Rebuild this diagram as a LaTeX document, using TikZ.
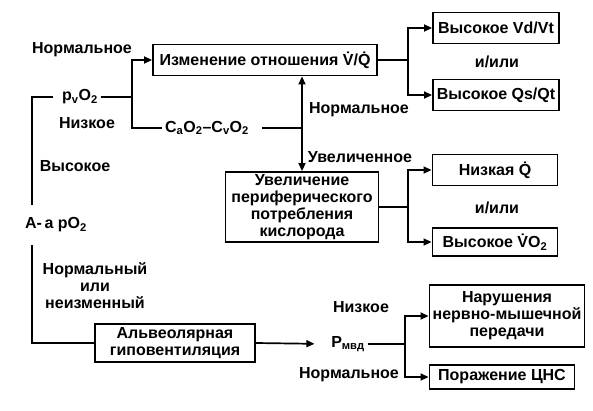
\documentclass[tikz,border=0pt]{standalone}
\usepackage{fontspec}
\setmainfont{Liberation Sans}
\usetikzlibrary{arrows.meta}
\newcommand{\fnt}{\fontsize{16}{17}\selectfont\bfseries}

\begin{document}
\begin{tikzpicture}[x=1pt,y=-1pt,line width=1.7pt,
  box/.style={draw,line width=1.9pt,align=center,inner sep=1.5pt,font=\fnt},
  lbl/.style={align=center,inner sep=2pt,font=\fnt},
  >={Triangle[length=8pt,width=7pt]}]
\useasboundingbox (0,0) rectangle (593,410);
\node[box,minimum width=224,minimum height=31] (vq) at (265,60) {Изменение отношения \.{V}/\.{Q}};
\node[box,minimum width=126,minimum height=31] (vd) at (496,28) {Высокое Vd/Vt};
\node[box,minimum width=126,minimum height=31] (qs) at (496,95) {Высокое Qs/Qt};
\node[box,minimum width=153,minimum height=70] (ipo) at (302,207) {Увеличение\\периферического\\потребления\\кислорода};
\node[box,minimum width=125,minimum height=31] (lowq) at (495,170) {Низкая \.{Q}};
\node[box,minimum width=125,minimum height=28] (vo2) at (495,242) {Высокое \.{V}O\textsubscript{2}};
\node[box,minimum width=160,minimum height=38] (alv) at (175,343) {Альвеолярная\\гиповентиляция};
\node[box,minimum width=155,minimum height=62] (nmp) at (507,316) {Нарушения\\нервно-мышечной\\передачи};
\node[box,minimum width=145,minimum height=24] (cns) at (502,377) {Поражение ЦНС};
\node[lbl] (n1) at (82,50) {Нормальное};
\node[lbl] (pvo) at (80,97) {p\textsubscript{v}O\textsubscript{2}};
\node[lbl] (low1) at (87,123) {Низкое};
\node[lbl] (high1) at (75,166) {Высокое};
\node[lbl] (avd) at (207,128) {C\textsubscript{a}O\textsubscript{2}–C\textsubscript{v}O\textsubscript{2}};
\node[lbl,inner ysep=12pt] (aa) at (56,225) {A-\,a pO\textsubscript{2}};
\node[lbl] (nn) at (95,286) {Нормальный\\или\\неизменный};
\node[lbl] (n2) at (359,110) {Нормальное};
\node[lbl] (incr) at (360,157) {Увеличенное};
\node[lbl] (or1) at (497,62) {и/или};
\node[lbl] (or2) at (497,208) {и/или};
\node[lbl] (pm) at (348,344) {P\textsubscript{мвд}};
\node[lbl] (low2) at (361,307) {Низкое};
\node[lbl] (n3) at (349,375) {Нормальное};
\coordinate (lt) at (32,97); \coordinate (j1) at (132,97); \coordinate (j2) at (408,60);
\coordinate (j3) at (408,207); \coordinate (j4) at (405,344);
\draw[shorten <=6pt] (pvo.west) -- (lt) -- (lt |- aa.north); \draw (aa.south -| lt) |- (alv.west);
\draw (pvo.east) -- (j1); \draw[->] (j1) |- (vq.west); \draw (j1) |- (avd.west);
\draw[shorten <=10pt] (avd.east) -- (avd.east -| ipo.north);
\draw[<->] (vq.south -| ipo.north) -- (ipo.north);
\draw (vq.east) -- (j2); \draw[->] (j2) |- (vd.west); \draw[->] (j2) |- (qs.west);
\draw (ipo.east) -- (j3); \draw[->] (j3) |- (lowq.west); \draw[->] (j3) |- (vo2.west);
\draw[->,shorten >=14pt] (alv.east) -- (pm.west);
\draw (pm.east) -- (j4); \draw[->] (j4) |- (nmp.west); \draw[->] (j4) |- (cns.west);
\end{tikzpicture}
\end{document}
